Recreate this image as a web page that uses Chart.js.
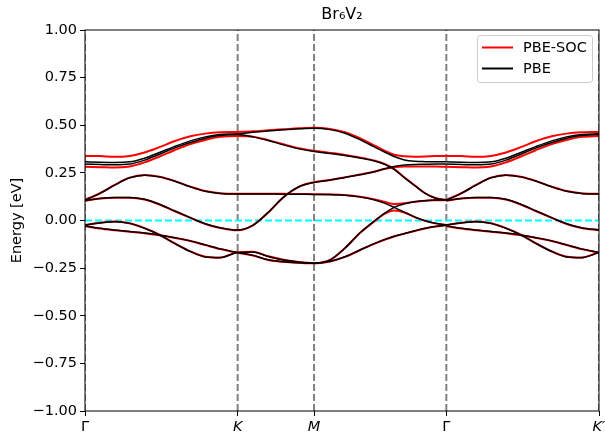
<!DOCTYPE html>
<html>
<head>
<meta charset="utf-8">
<title>Br6V2 band structure</title>
<script src="https://cdn.jsdelivr.net/npm/chart.js@4/dist/chart.umd.min.js"></script>
<style>
  html, body { margin: 0; padding: 0; background: #fff; }
</style>
</head>
<body>
<canvas id="bands" width="605" height="439"></canvas>
<script>
// high-symmetry points along the path
const kTicks = [0, 1.333, 2.0, 3.155, 4.488];
const kLabels = ['Γ', 'K', 'M', 'Γ', 'K′'];

// k-points for Γ-K-M-Γ
const kPath = [0, 0.13, 0.26, 0.39, 0.52, 0.65, 0.78, 0.92, 1.05, 1.18, 1.333,
  1.467, 1.6, 1.733, 1.867, 2.0,
  2.14, 2.27, 2.40, 2.53, 2.62, 2.70, 2.79, 2.88, 2.97, 3.06, 3.155];
const nGK = 11; // points on Γ-K, reused for Γ-K'

// PBE bands (eV)
const pbe1 = [0.308, 0.306, 0.305, 0.308, 0.327, 0.357, 0.388, 0.418, 0.439, 0.451, 0.455,
  0.463, 0.470, 0.476, 0.481, 0.484,
  0.477, 0.458, 0.425, 0.385, 0.358, 0.336, 0.318, 0.311, 0.309, 0.308, 0.308];
const pbe2 = [0.296, 0.294, 0.292, 0.296, 0.317, 0.348, 0.380, 0.409, 0.432, 0.446, 0.451,
  0.439, 0.420, 0.397, 0.376, 0.362,
  0.352, 0.341, 0.328, 0.312, 0.294, 0.268, 0.224, 0.183, 0.142, 0.117, 0.107];
const pbe3 = [0.107, 0.142, 0.186, 0.224, 0.238, 0.229, 0.207, 0.177, 0.154, 0.142, 0.139,
  0.139, 0.139, 0.138, 0.138, 0.137,
  0.136, 0.133, 0.124, 0.108, 0.090, 0.069, 0.043, 0.018, -0.001, -0.015, -0.024];
const pbe4 = [0.104, 0.116, 0.121, 0.121, 0.111, 0.085, 0.051, 0.015, -0.017, -0.038, -0.050,
  -0.024, 0.043, 0.123, 0.177, 0.200,
  0.212, 0.226, 0.240, 0.256, 0.272, 0.284, 0.291, 0.294, 0.295, 0.296, 0.296];
const pbe5 = [-0.024, -0.013, -0.006, -0.015, -0.041, -0.076, -0.120, -0.163, -0.191, -0.195, -0.168,
  -0.165, -0.189, -0.207, -0.218, -0.224,
  -0.207, -0.145, -0.066, -0.001, 0.040, 0.069, 0.088, 0.099, 0.104, 0.107, 0.107];
const pbe6 = [-0.029, -0.041, -0.050, -0.058, -0.066, -0.076, -0.090, -0.107, -0.128, -0.149, -0.168,
  -0.183, -0.206, -0.217, -0.222, -0.224,
  -0.214, -0.190, -0.155, -0.120, -0.099, -0.083, -0.068, -0.054, -0.041, -0.031, -0.024];

// PBE-SOC bands (eV)
const soc1 = [0.339, 0.338, 0.334, 0.339, 0.357, 0.385, 0.416, 0.442, 0.456, 0.463, 0.465,
  0.468, 0.474, 0.479, 0.484, 0.487,
  0.481, 0.463, 0.432, 0.393, 0.365, 0.345, 0.337, 0.335, 0.336, 0.338, 0.339];
const soc2 = [0.282, 0.280, 0.278, 0.284, 0.305, 0.336, 0.369, 0.401, 0.423, 0.439, 0.444,
  0.440, 0.422, 0.400, 0.380, 0.366,
  0.355, 0.344, 0.331, 0.314, 0.296, 0.270, 0.226, 0.184, 0.143, 0.118, 0.108];
const soc3 = [0.108, 0.143, 0.187, 0.225, 0.239, 0.230, 0.208, 0.178, 0.155, 0.143, 0.140,
  0.140, 0.140, 0.140, 0.139, 0.138,
  0.137, 0.134, 0.125, 0.111, 0.097, 0.087, 0.091, 0.099, 0.104, 0.106, 0.107];
const soc4 = [0.103, 0.115, 0.120, 0.120, 0.110, 0.084, 0.050, 0.014, -0.018, -0.039, -0.051,
  -0.025, 0.042, 0.122, 0.177, 0.201,
  0.213, 0.227, 0.241, 0.257, 0.272, 0.280, 0.283, 0.283, 0.283, 0.283, 0.282];
const soc5 = [-0.023, -0.012, -0.005, -0.014, -0.040, -0.074, -0.119, -0.162, -0.190, -0.194, -0.167,
  -0.164, -0.188, -0.206, -0.218, -0.224,
  -0.207, -0.145, -0.066, -0.003, 0.036, 0.052, 0.042, 0.018, -0.002, -0.015, -0.024];
const soc6 = [-0.030, -0.042, -0.051, -0.059, -0.067, -0.078, -0.091, -0.108, -0.129, -0.150, -0.169,
  -0.184, -0.207, -0.217, -0.222, -0.225,
  -0.215, -0.191, -0.156, -0.121, -0.100, -0.084, -0.069, -0.055, -0.042, -0.032, -0.025];

const pbeBands = [pbe1, pbe2, pbe3, pbe4, pbe5, pbe6];
const socBands = [soc1, soc2, soc3, soc4, soc5, soc6];

const FONT = 'DejaVu Sans';
Chart.defaults.font.family = FONT;
Chart.defaults.color = '#000';

function points(k, e) {
  return k.map((x, i) => ({ x: x, y: e[i] }));
}

// Γ-K' uses the Γ-K sampling shifted to the second Γ
const kGKp = kPath.slice(0, nGK).map(k => kTicks[3] + k);

function bandSets(bands, color, width, order) {
  const out = [];
  bands.forEach(e => {
    const style = {
      borderColor: color, borderWidth: width, pointRadius: 0,
      cubicInterpolationMode: 'monotone', order: order
    };
    out.push(Object.assign({ data: points(kPath, e) }, style));
    out.push(Object.assign({ data: points(kGKp, e.slice(0, nGK)) }, style));
  });
  return out;
}

const datasets = [];
datasets.push(...bandSets(pbeBands, '#000000', 1.5, 1));
datasets.push(...bandSets(socBands, '#ff0000', 2, 2));

// Fermi level
datasets.push({
  data: [{ x: kTicks[0], y: 0 }, { x: kTicks[4], y: 0 }],
  borderColor: '#00ffff', borderWidth: 2, borderDash: [7, 3],
  pointRadius: 0, order: 3
});

// vertical markers at high-symmetry points
kTicks.forEach(k => {
  datasets.push({
    data: [{ x: k, y: -1 }, { x: k, y: 1 }],
    borderColor: '#808080', borderWidth: 2, borderDash: [7, 3],
    pointRadius: 0, order: 4
  });
});

// axes frame
const frame = {
  id: 'frame',
  afterDatasetsDraw(chart) {
    const { ctx, chartArea: a } = chart;
    ctx.save();
    ctx.strokeStyle = '#000';
    ctx.lineWidth = 1;
    ctx.strokeRect(a.left, a.top, a.right - a.left, a.bottom - a.top);
    ctx.restore();
  }
};

// legend box in the upper right corner
const legendBox = {
  id: 'legendBox',
  afterDraw(chart) {
    const { ctx, chartArea: a } = chart;
    const entries = [['PBE-SOC', '#ff0000'], ['PBE', '#000000']];
    const w = 115, h = 47;
    const x0 = a.right - 7 - w, y0 = a.top + 5;
    ctx.save();
    ctx.beginPath();
    ctx.roundRect(x0 + 0.5, y0 + 0.5, w, h, 3);
    ctx.fillStyle = 'rgba(255,255,255,0.8)';
    ctx.fill();
    ctx.strokeStyle = '#cccccc';
    ctx.lineWidth = 1;
    ctx.stroke();
    ctx.font = '14.5px "' + FONT + '"';
    ctx.textBaseline = 'middle';
    entries.forEach(([label, color], i) => {
      const y = y0 + 12.5 + i * 21;
      ctx.beginPath();
      ctx.moveTo(x0 + 5, y);
      ctx.lineTo(x0 + 36, y);
      ctx.strokeStyle = color;
      ctx.lineWidth = 2;
      ctx.stroke();
      ctx.fillStyle = '#000';
      ctx.fillText(label, x0 + 46, y + 1);
    });
    ctx.restore();
  }
};

new Chart(document.getElementById('bands'), {
  type: 'line',
  data: { datasets: datasets },
  options: {
    responsive: false,
    animation: false,
    devicePixelRatio: 1,
    layout: { padding: { left: 0, right: 6, top: 0, bottom: 0 } },
    plugins: {
      legend: { display: false },
      tooltip: { enabled: false },
      title: {
        display: true,
        text: 'Br₆V₂',
        fullSize: false,
        color: '#000',
        font: { size: 16, weight: 'normal' },
        padding: { top: 5, bottom: 5.8 }
      }
    },
    scales: {
      x: {
        type: 'linear',
        min: kTicks[0],
        max: kTicks[4],
        afterBuildTicks: axis => { axis.ticks = kTicks.map(v => ({ value: v })); },
        afterFit: axis => {
          axis.height = 28;
          axis.paddingLeft = 0;
          axis.paddingRight = 0;
        },
        grid: { drawOnChartArea: false, drawTicks: true, tickLength: 5, color: '#000' },
        border: { display: false },
        ticks: {
          autoSkip: false,
          maxRotation: 0,
          padding: 3,
          color: '#000',
          font: ctx => ({
            size: 14.5,
            style: kLabels[ctx.index] === 'Γ' ? 'normal' : 'italic'
          }),
          callback: (v, i) => kLabels[i]
        }
      },
      y: {
        type: 'linear',
        min: -1,
        max: 1,
        afterFit: axis => { axis.width = 85; },
        grid: { drawOnChartArea: false, drawTicks: true, tickLength: 5, color: '#000' },
        border: { display: false },
        title: {
          display: true,
          text: 'Energy [eV]',
          color: '#000',
          font: { size: 14.5 },
          padding: { top: 9, bottom: 0 }
        },
        ticks: {
          stepSize: 0.25,
          padding: 3,
          color: '#000',
          font: { size: 14.5 },
          callback: v => (v < 0 ? '\u2212' : '') + Math.abs(v).toFixed(2)
        }
      }
    }
  },
  plugins: [frame, legendBox]
});
</script>
</body>
</html>
